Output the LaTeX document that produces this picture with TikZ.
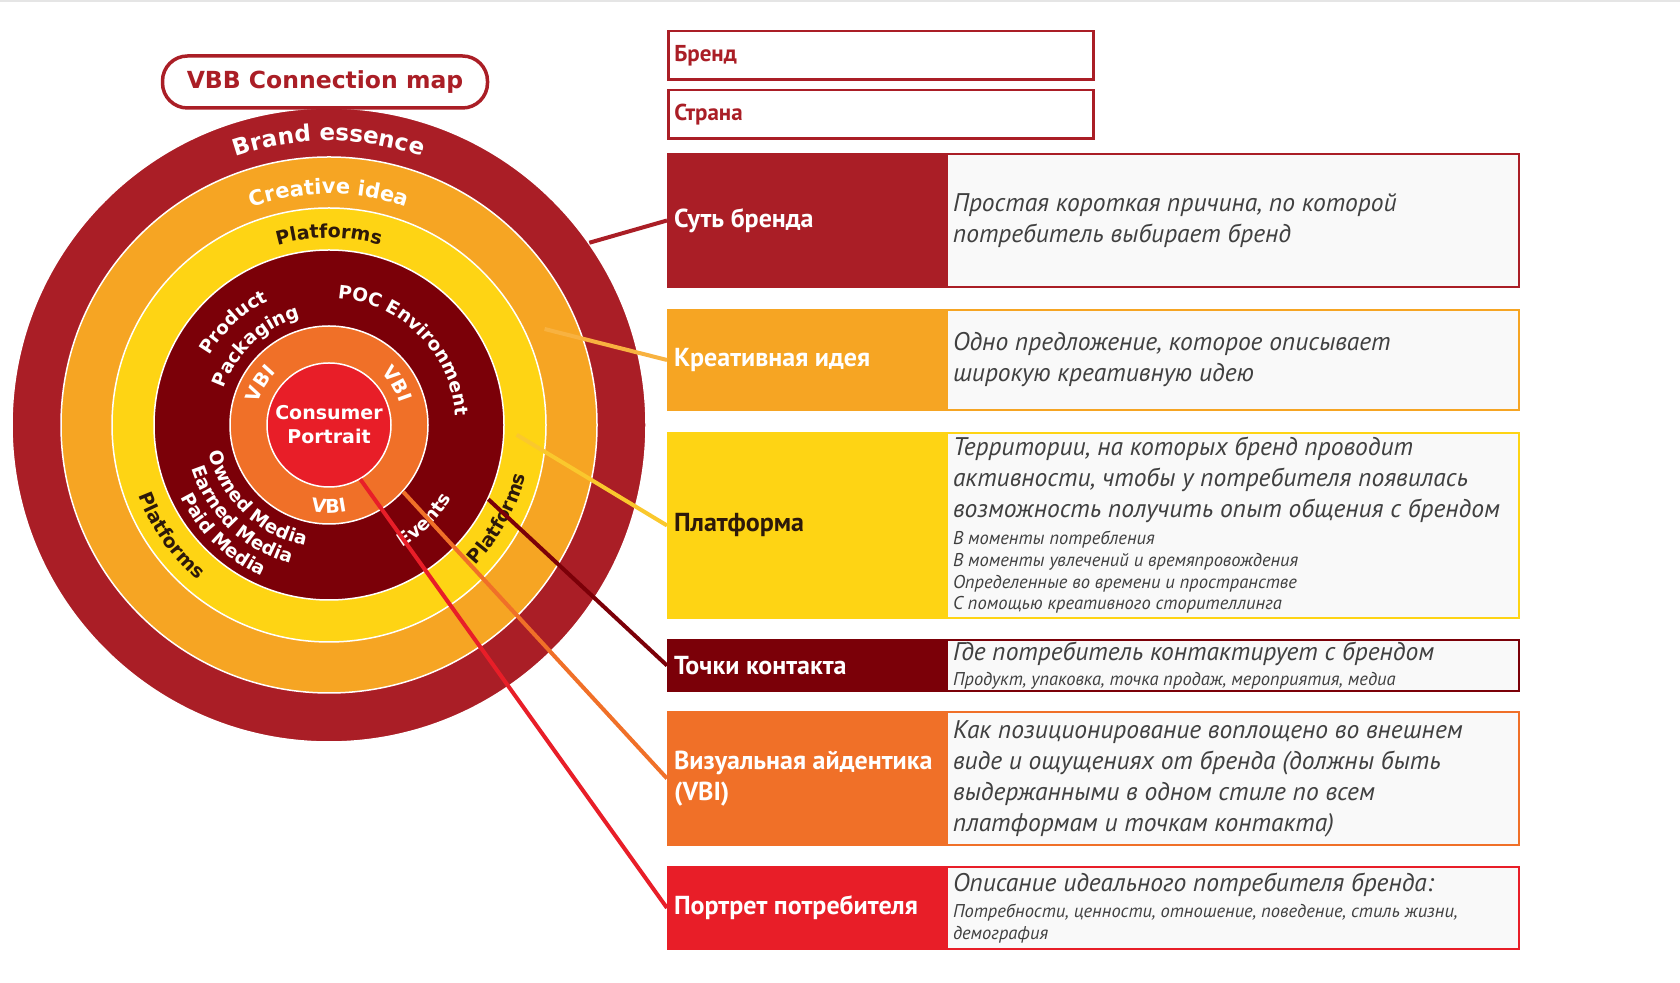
\documentclass[tikz,border=0pt]{standalone}
\usepackage{fontspec}
\setmainfont{PT Sans}
\newfontfamily\ringfont{DejaVu Sans}
\usepackage{xcolor}
\usepackage{tikz}
\usetikzlibrary{positioning, calc, decorations.text}

\definecolor{cEss}{RGB}{170,30,38}
\definecolor{cIdea}{RGB}{246,165,35}
\definecolor{cIdeaLine}{RGB}{248,178,64}
\definecolor{cPlat}{RGB}{254,212,20}
\definecolor{cPlatLine}{RGB}{250,200,45}
\definecolor{cTouch}{RGB}{123,0,8}
\definecolor{cVbi}{RGB}{240,112,40}
\definecolor{cCons}{RGB}{232,30,40}
\definecolor{cDesc}{RGB}{64,64,64}
\definecolor{cPanel}{RGB}{249,249,249}
\definecolor{cDark}{RGB}{45,25,10}

\newcommand{\lblfont}{\fontsize{26}{31}\selectfont\bfseries}
\newcommand{\fieldfont}{\fontsize{23}{26}\selectfont\bfseries}
\newcommand{\bigd}{\fontsize{25.5}{31}\selectfont}
\newcommand{\smalld}{\fontsize{18.5}{21.7}\selectfont}
\newcommand{\rf}[1]{\ringfont\bfseries\fontsize{#1}{#1}\selectfont}

\begin{document}
\begin{tikzpicture}[x=1pt, y=1pt,
  lbl/.style={draw=#1, fill=#1, line width=2pt, minimum width=277pt, text width=265pt, inner xsep=6pt, inner ysep=0pt, align=flush left, font=\lblfont, text=white},
  desc/.style={draw=#1, fill=cPanel, line width=2pt, minimum width=572pt, text width=560pt, inner xsep=6pt, inner ysep=0pt, align=flush left, font=\bigd\itshape, text=cDesc},
  field/.style={draw=cEss, line width=2.5pt, fill=white, minimum width=425pt, minimum height=48.5pt, text width=413pt, inner xsep=6pt, inner ysep=0pt, align=flush left, font=\fieldfont, text=cEss},
  band/.style={circle, draw=white, line width=1.5pt, inner sep=0pt, minimum size=#1},
  con/.style={line width=4pt},
  curv/.style={decorate, decoration={text along path, text align=center, text={#1}}},
  pill/.style={draw=cEss, line width=3.5pt, fill=white, rounded corners=25pt, minimum width=325pt, minimum height=52pt, font=\rf{23.5}, text=cEss}
]
  \useasboundingbox (0,0) rectangle (1680,982);
  \draw[gray!20, line width=2pt] (0,981) -- (1680,981);

  \coordinate (c) at (329,557);
  \node[band=634pt, fill=cEss] (ess) at (c) {};
  \node[band=536pt, fill=cIdea] (idea) at (c) {};
  \node[band=434pt, fill=cPlat] (plat) at (c) {};
  \node[band=350pt, fill=cTouch] (touch) at (c) {};
  \node[band=198pt, fill=cVbi] (vbi) at (c) {};
  \node[band=124pt, fill=cCons, text=white, align=center, font=\ringfont\bfseries\fontsize{19}{24}\selectfont] (core) at (c) {Consumer\\Portrait};
  \node[pill] (title) at (325,900) {VBB Connection map};

  \path[curv={|\rf{23}\color{white}|Brand essence}] ($(c)+(150:284pt)$) arc[start angle=150, end angle=30, radius=284pt];
  \path[curv={|\rf{21}\color{white}|Creative idea}] ($(c)+(150:231pt)$) arc[start angle=150, end angle=30, radius=231pt];
  \path[curv={|\rf{19}\color{cDark}|Platforms}] ($(c)+(140:187pt)$) arc[start angle=140, end angle=40, radius=187pt];
  \path[curv={|\rf{19}\color{cDark}|Platforms}] ($(c)+(155:203pt)$) arc[start angle=155, end angle=275, radius=203pt];
  \path[curv={|\rf{19}\color{cDark}|Platforms}] ($(c)+(271:203pt)$) arc[start angle=271, end angle=391, radius=203pt];
  \path[curv={|\rf{18.5}\color{white}|Product}] ($(c)+(183:138pt)$) arc[start angle=183, end angle=83, radius=138pt];
  \path[curv={|\rf{18.5}\color{white}|Packaging}] ($(c)+(183:111pt)$) arc[start angle=183, end angle=83, radius=111pt];
  \path[curv={|\rf{18.5}\color{white}|POC Environment}] ($(c)+(125:127pt)$) arc[start angle=125, end angle=-35, radius=127pt];
  \path[curv={|\rf{18.5}\color{white}|Owned Media}] ($(c)+(156:123pt)$) arc[start angle=156, end angle=296, radius=123pt];
  \path[curv={|\rf{18.5}\color{white}|Earned Media}] ($(c)+(156:144pt)$) arc[start angle=156, end angle=296, radius=144pt];
  \path[curv={|\rf{18.5}\color{white}|Paid Media}] ($(c)+(156:165pt)$) arc[start angle=156, end angle=296, radius=165pt];
  \path[curv={|\rf{18.5}\color{white}|Events}] ($(c)+(255:143pt)$) arc[start angle=255, end angle=375, radius=143pt];
  \path[curv={|\rf{19}\color{white}|VBI}] ($(c)+(209:74pt)$) arc[start angle=209, end angle=89, radius=74pt];
  \path[curv={|\rf{19}\color{white}|VBI}] ($(c)+(91:74pt)$) arc[start angle=91, end angle=-29, radius=74pt];
  \path[curv={|\rf{19}\color{white}|VBI}] ($(c)+(210:88pt)$) arc[start angle=210, end angle=330, radius=88pt];

  \node[field, anchor=north west] (brand) at (667,952) {Бренд};
  \node[field, below=8pt of brand] (country) {Страна};

  \node[lbl=cEss, minimum height=133pt, anchor=north west] (essL) at (667,829) {Суть бренда};
  \node[desc=cEss, minimum height=133pt, right=0pt of essL] (essD) {Простая короткая причина, по которой\\потребитель выбирает бренд\par};

  \node[lbl=cIdea, minimum height=100pt, below=21pt of essL] (ideaL) {Креативная идея};
  \node[desc=cIdea, minimum height=100pt, right=0pt of ideaL] (ideaD) {Одно предложение, которое описывает\\широкую креативную идею\par};

  \node[lbl=cPlat, text=cDark, minimum height=185pt, below=21pt of ideaL] (platL) {Платформа};
  \node[desc=cPlat, minimum height=185pt, right=0pt of platL] (platD) {Территории, на которых бренд проводит\\активности, чтобы у потребителя появилась\\возможность получить опыт общения с брендом\par\vspace{5pt}\smalld В моменты потребления\\В моменты увлечений и времяпровождения\\Определенные во времени и пространстве\\С помощью креативного сторителлинга\par};

  \node[lbl=cTouch, minimum height=51pt, below=20pt of platL] (touchL) {Точки контакта};
  \node[desc=cTouch, minimum height=51pt, right=0pt of touchL] (touchD) {Где потребитель контактирует с брендом\par\vspace{3pt}\smalld Продукт, упаковка, точка продаж, мероприятия, медиа\par};

  \node[lbl=cVbi, minimum height=133pt, below=19pt of touchL] (vbiL) {Визуальная айдентика\\(VBI)\par};
  \node[desc=cVbi, minimum height=133pt, right=0pt of vbiL] (vbiD) {Как позиционирование воплощено во внешнем\\виде и ощущениях от бренда (должны быть\\выдержанными в одном стиле по всем\\платформам и точкам контакта)\par};

  \node[lbl=cCons, minimum height=82pt, below=20pt of vbiL] (consL) {Портрет потребителя};
  \node[desc=cCons, minimum height=82pt, right=0pt of consL] (consD) {Описание идеального потребителя бренда:\par\vspace{5pt}\smalld Потребности, ценности, отношение, поведение, стиль жизни,\\демография\par};

  \coordinate (pIdea) at ($(c)+(24:236pt)$);
  \coordinate (pPlat) at ($(c)+(-3:188pt)$);
  \draw[con, cEss] (ess.35) -- (essL.west);
  \draw[con, cIdeaLine] (pIdea) -- (ideaL.west);
  \draw[con, cPlatLine] (pPlat) -- (platL.west);
  \draw[con, cTouch] (touch.-25) -- (touchL.west);
  \draw[con, cVbi] (vbi.-42) -- (vbiL.west);
  \draw[con, cCons] (core.-60) -- (consL.west);
\end{tikzpicture}
\end{document}
